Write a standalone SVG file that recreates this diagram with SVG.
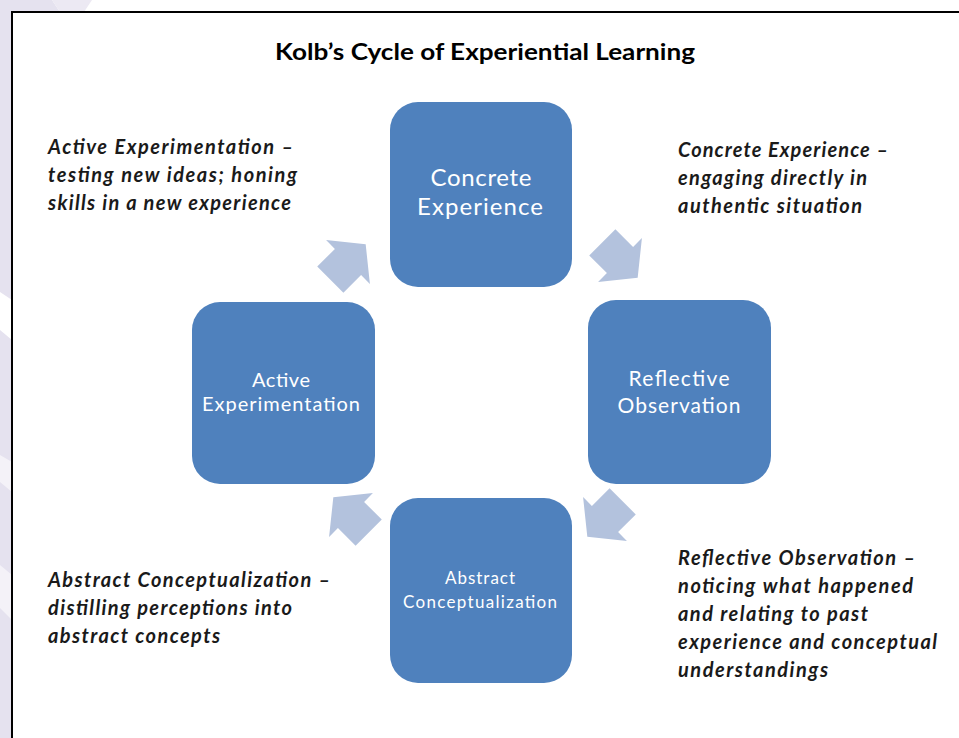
<svg xmlns="http://www.w3.org/2000/svg" width="959" height="738" viewBox="0 0 959 738">
  <defs>
    <style>
      .box { fill: #4f81bd; }
      .arrow { fill: #b3c2dd; }
      .btxt { font-family: Lato, "Liberation Sans", sans-serif; fill: #ffffff; text-anchor: middle; }
      .note { font-family: Lato, "Liberation Sans", sans-serif; font-weight: bold; font-style: italic; font-size: 20px; fill: #1a1a1a; }
      .title { font-family: Lato, "Liberation Sans", sans-serif; font-weight: bold; font-size: 23px; fill: #000000; }
    </style>
    <path id="arr" d="M-25,-18.5 L0,-18.5 L0,-31 L25,0 L0,31 L0,18.5 L-25,18.5 Z"/>
  </defs>

  <!-- background -->
  <rect x="0" y="0" width="959" height="738" fill="#ffffff"/>
  <g id="backdrop">
    <rect x="0" y="0" width="12" height="738" fill="#e5e2ef"/>
    <polygon points="0,0 52,0 60,12 0,12" fill="#e5e2ef"/>
    <polygon points="52,0 92,0 84,12 60,12" fill="#ece9f3"/>
    <polygon points="0,292 12,300 12,340 0,330" fill="#ffffff"/>
    <polygon points="0,455 12,462 12,492 0,482" fill="#f4f2f8"/>
    <polygon points="0,565 12,575 12,620 0,608" fill="#f4f2f8"/>
  </g>

  <!-- panel -->
  <rect id="panel" x="12" y="12" width="960" height="740" fill="#ffffff" stroke="#000000" stroke-width="2"/>

  <text id="title" class="title" x="275" y="60" textLength="420" lengthAdjust="spacingAndGlyphs">Kolb’s Cycle of Experiential Learning</text>

  <!-- connectors -->
  <g id="connectors">
    <use href="#arr" class="arrow" transform="translate(620,260) rotate(45)"/>
    <use href="#arr" class="arrow" transform="translate(605,519) rotate(135)"/>
    <use href="#arr" class="arrow" transform="translate(351,515) rotate(225)"/>
    <use href="#arr" class="arrow" transform="translate(348,262) rotate(-45)"/>
  </g>

  <!-- nodes -->
  <g id="node-concrete">
    <rect class="box" x="390" y="102" width="182" height="185" rx="28" ry="28"/>
    <text class="btxt" font-size="24" x="481" y="186" textLength="101">Concrete</text>
    <text class="btxt" font-size="24" x="480" y="215" textLength="126">Experience</text>
  </g>
  <g id="node-reflective">
    <rect class="box" x="588" y="300" width="183" height="184" rx="28" ry="28"/>
    <text class="btxt" font-size="21" x="679" y="386" textLength="101">Reflective</text>
    <text class="btxt" font-size="21" x="679" y="413" textLength="123">Observation</text>
  </g>
  <g id="node-active">
    <rect class="box" x="192" y="302" width="183" height="182" rx="28" ry="28"/>
    <text class="btxt" font-size="20" x="281" y="387" textLength="58">Active</text>
    <text class="btxt" font-size="20" x="281" y="411" textLength="158">Experimentation</text>
  </g>
  <g id="node-abstract">
    <rect class="box" x="390" y="498" width="182" height="185" rx="28" ry="28"/>
    <text class="btxt" font-size="17" x="480" y="584" textLength="70">Abstract</text>
    <text class="btxt" font-size="17" x="480" y="608" textLength="154">Conceptualization</text>
  </g>

  <!-- annotations -->
  <g id="note-active">
    <text class="note" x="48" y="154" textLength="245">Active Experimentation –</text>
    <text class="note" x="48" y="182" textLength="249">testing new ideas; honing</text>
    <text class="note" x="48" y="210" textLength="243">skills in a new experience</text>
  </g>
  <g id="note-concrete">
    <text class="note" x="678" y="157" textLength="210">Concrete Experience –</text>
    <text class="note" x="678" y="185" textLength="189">engaging directly in</text>
    <text class="note" x="678" y="213" textLength="184">authentic situation</text>
  </g>
  <g id="note-reflective">
    <text class="note" x="678" y="565" textLength="237">Reflective Observation –</text>
    <text class="note" x="678" y="593" textLength="235">noticing what happened</text>
    <text class="note" x="678" y="621" textLength="190">and relating to past</text>
    <text class="note" x="678" y="649" textLength="259">experience and conceptual</text>
    <text class="note" x="678" y="677" textLength="150">understandings</text>
  </g>
  <g id="note-abstract">
    <text class="note" x="48" y="587" textLength="282">Abstract Conceptualization –</text>
    <text class="note" x="48" y="615" textLength="244">distilling perceptions into</text>
    <text class="note" x="48" y="643" textLength="172">abstract concepts</text>
  </g>
</svg>
